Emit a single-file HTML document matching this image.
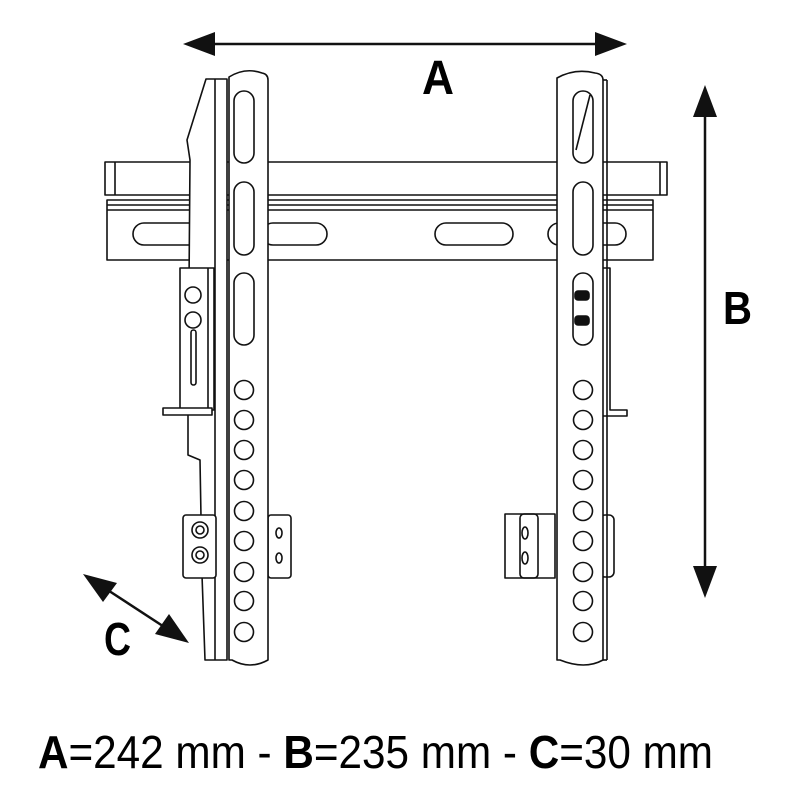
<!DOCTYPE html>
<html><head><meta charset="utf-8"><style>
html,body{margin:0;padding:0;background:#fff;}
svg{display:block;}
text{font-family:"Liberation Sans",sans-serif;font-weight:bold;fill:#000;}
</style></head><body>
<svg width="800" height="800" viewBox="0 0 800 800" xmlns="http://www.w3.org/2000/svg">
<g fill="none" stroke="#111" stroke-width="1.6" stroke-linejoin="round">
<!-- horizontal rail -->
<path d="M105 162 H667 V195 H105 Z" fill="#fff"/>
<line x1="115" y1="162" x2="115" y2="195"/>
<line x1="660" y1="162" x2="660" y2="195"/>
<path d="M107 200 H653 V260 H107 Z" fill="#fff"/>
<line x1="107" y1="205" x2="653" y2="205"/>
<line x1="107" y1="210" x2="653" y2="210"/>
<rect x="133" y="223" width="80" height="22" rx="11"/>
<rect x="262" y="223" width="65" height="22" rx="11"/>
<rect x="435" y="223" width="78" height="22" rx="11"/>
<rect x="548" y="223" width="78" height="22" rx="11"/>

<!-- left back plate -->
<path d="M206 79 L227 79 L227 660 L205 660 L202 575 L200 460 L188 455 L188 410 L190 160 L187 140 Z" fill="#fff"/>
<line x1="215" y1="79" x2="215" y2="660"/>
<!-- upper left bracket -->
<rect x="180" y="268" width="34" height="142" fill="#fff"/>
<line x1="208" y1="268" x2="208" y2="410"/>
<circle cx="193" cy="295" r="8"/><circle cx="193" cy="320" r="8"/>
<rect x="191" y="330" width="5" height="55" rx="2.5"/>
<path d="M163 408 H212 V415 H163 Z" fill="#fff"/>
<!-- lower left bracket -->
<rect x="183" y="515" width="33" height="63" rx="3" fill="#fff"/>
<circle cx="200" cy="530" r="8"/><circle cx="200" cy="555" r="8"/>
<circle cx="200" cy="530" r="4"/><circle cx="200" cy="555" r="4"/>
<rect x="268" y="515" width="23" height="63" rx="3" fill="#fff"/>
<ellipse cx="279" cy="533" rx="3" ry="5"/><ellipse cx="279" cy="558" rx="3" ry="5"/>

<!-- left upright -->
<path d="M229 77 Q245 67 262 73 Q268 74 268 80 V660 Q250 670 232 660 L229 660 Z" fill="#fff"/>
<rect x="234" y="91" width="20" height="72" rx="10"/>
<rect x="234" y="182" width="20" height="73" rx="10"/>
<rect x="234" y="273" width="20" height="72" rx="10"/>
<g>
<circle cx="244" cy="390" r="9.5"/><circle cx="244" cy="420" r="9.5"/><circle cx="244" cy="450" r="9.5"/>
<circle cx="244" cy="480" r="9.5"/><circle cx="244" cy="511" r="9.5"/><circle cx="244" cy="541" r="9.5"/>
<circle cx="244" cy="572" r="9.5"/><circle cx="244" cy="601" r="9.5"/><circle cx="244" cy="632" r="9.5"/>
</g>

<!-- right back parts -->
<path d="M600 268 H610 V410 H627 V416 H600 Z" fill="#fff"/>
<rect x="505" y="514" width="50" height="64" fill="#fff"/>
<rect x="520" y="514" width="18" height="64" rx="4"/>
<ellipse cx="525" cy="533" rx="3" ry="6"/><ellipse cx="525" cy="558" rx="3" ry="6"/>
<rect x="600" y="515" width="14" height="62" rx="5" fill="#fff"/>
<!-- right upright -->
<path d="M557 78 Q575 68 595 73 Q603 74 603 80 V660 Q585 670 560 660 L557 660 Z" fill="#fff"/>
<line x1="603" y1="80" x2="607" y2="80"/><line x1="607" y1="80" x2="607" y2="660"/><line x1="603" y1="660" x2="607" y2="660"/>
<rect x="573" y="91" width="20" height="72" rx="10"/>
<line x1="590" y1="95" x2="576" y2="150"/>
<rect x="573" y="182" width="20" height="73" rx="10"/>
<rect x="573" y="273" width="20" height="72" rx="10"/>
<rect x="575" y="291" width="14" height="9" rx="3" fill="#111"/>
<rect x="575" y="316" width="14" height="9" rx="3" fill="#111"/>
<g>
<circle cx="583" cy="390" r="9.5"/><circle cx="583" cy="420" r="9.5"/><circle cx="583" cy="450" r="9.5"/>
<circle cx="583" cy="480" r="9.5"/><circle cx="583" cy="511" r="9.5"/><circle cx="583" cy="541" r="9.5"/>
<circle cx="583" cy="572" r="9.5"/><circle cx="583" cy="601" r="9.5"/><circle cx="583" cy="632" r="9.5"/>
</g>
</g>

<!-- dimension arrows -->
<g stroke="#111" stroke-width="2.5" fill="#111">
<line x1="205" y1="44" x2="605" y2="44"/>
<path d="M183 44 L215 32 L215 56 Z" stroke="none"/>
<path d="M627 44 L595 32 L595 56 Z" stroke="none"/>
<line x1="705" y1="110" x2="705" y2="575"/>
<path d="M705 85 L693 117 L717 117 Z" stroke="none"/>
<path d="M705 598 L693 566 L717 566 Z" stroke="none"/>
<line x1="100" y1="585" x2="172" y2="632"/>
<path d="M83 574 L117 583 L103 602 Z" stroke="none"/>
<path d="M189 643 L155 634 L169 614 Z" stroke="none"/>
</g>
<text x="422" y="94" font-size="48" textLength="32" lengthAdjust="spacingAndGlyphs">A</text>
<text x="723" y="324" font-size="46" textLength="29" lengthAdjust="spacingAndGlyphs">B</text>
<text x="104" y="655" font-size="46" textLength="27" lengthAdjust="spacingAndGlyphs">C</text>
<text x="38" y="768" font-size="46" textLength="675" lengthAdjust="spacingAndGlyphs"><tspan>A</tspan><tspan font-weight="normal">=242 mm - </tspan><tspan>B</tspan><tspan font-weight="normal">=235 mm - </tspan><tspan>C</tspan><tspan font-weight="normal">=30 mm</tspan></text>
</svg>
</body></html>
